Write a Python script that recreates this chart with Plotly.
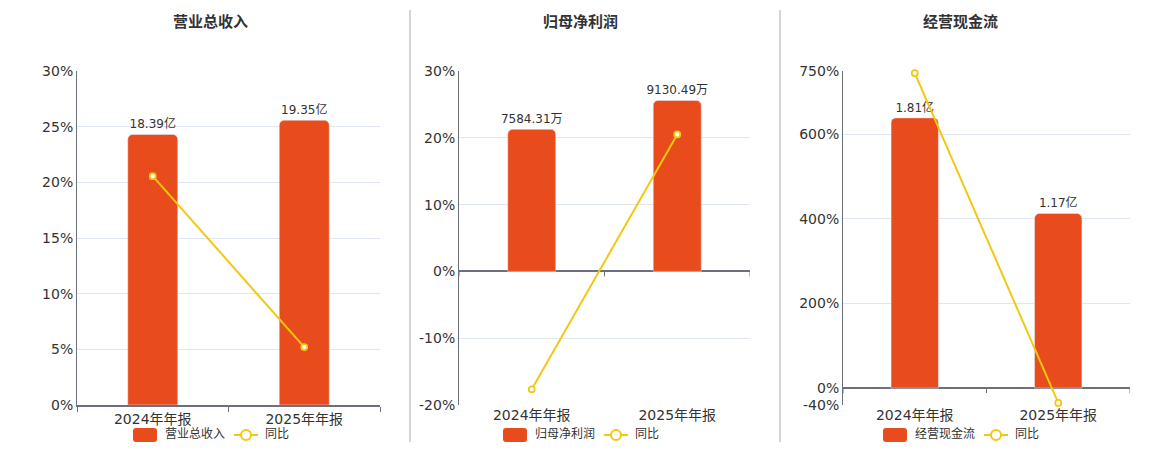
import plotly.graph_objects as go

# browser page has an 8px body margin; figure fits inside it
OFF = 8
W, H = 1160 - 2 * OFF, 450 - 2 * OFF

categories = ["2024年年报", "2025年年报"]

titles = ["营业总收入", "归母净利润", "经营现金流"]
units = ["亿", "万", "亿"]
yoy_name = "同比"

revenue = [18.39, 19.35]          # 亿
revenue_yoy = [20.55, 5.2]        # %
profit = [7584.31, 9130.49]       # 万
profit_yoy = [-17.65, 20.5]       # %
cashflow = [1.81, 1.17]           # 亿
cashflow_yoy = [745.0, -35.0]     # %

pct_ticks = [
    [0, 5, 10, 15, 20, 25, 30],
    [-20, -10, 0, 10, 20, 30],
    [-40, 0, 200, 400, 600, 750],
]

BAR = "#E84B1C"
LINE = "#F2C811"
AXIS = "#6E7079"
GRID = "#E0E6F1"
TXT = "#333333"
FONT = "DejaVu Sans, Noto Sans CJK SC, sans-serif"

bars = [revenue, profit, cashflow]
yoys = [revenue_yoy, profit_yoy, cashflow_yoy]
# hidden bar-axis top values (so bars sit at the picture's heights)
bar_top = [22.7, 10700, 2.124]


def px(x):
    return (x - OFF) / W


def py(y):
    return 1 - (y - OFF) / H


# pixel layout of each panel (screen coordinates)
plot_x = [(77, 380), (459, 750), (843, 1130)]
panel_center = [210, 580, 960]
y_top, y_bot = 71, 405
leg_y = 435       # legend symbols
leg_ty = 433.5    # legend texts

fig = go.Figure()
layout = dict(
    width=W, height=H,
    margin=dict(l=0, r=0, t=0, b=0, autoexpand=False),
    paper_bgcolor="white", plot_bgcolor="white",
    font=dict(family=FONT, color=TXT, size=12),
    bargap=0.67,
    barcornerradius=5,
    showlegend=False,
    annotations=[], shapes=[],
)


def rounded_rect(xl, xr, yt, yb, r):
    # path in paper coords from screen pixel box
    pts = [
        f"M {px(xl + r)},{py(yt)}",
        f"L {px(xr - r)},{py(yt)}",
        f"Q {px(xr)},{py(yt)} {px(xr)},{py(yt + r)}",
        f"L {px(xr)},{py(yb - r)}",
        f"Q {px(xr)},{py(yb)} {px(xr - r)},{py(yb)}",
        f"L {px(xl + r)},{py(yb)}",
        f"Q {px(xl)},{py(yb)} {px(xl)},{py(yb - r)}",
        f"L {px(xl)},{py(yt + r)}",
        f"Q {px(xl)},{py(yt)} {px(xl + r)},{py(yt)}",
        "Z",
    ]
    return " ".join(pts)


for i in range(3):
    xa = "x" if i == 0 else f"x{i+1}"
    yb = "y" if i == 0 else f"y{i+1}"          # hidden bar axis
    yp = f"y{i+4}"                              # visible percent axis
    pmin, pmax = pct_ticks[i][0], pct_ticks[i][-1]
    bmax = bar_top[i]
    bmin = bmax * pmin / pmax

    fig.add_trace(go.Bar(
        x=categories, y=bars[i], name=titles[i],
        xaxis=xa, yaxis=yb,
        marker=dict(color=BAR),
        text=[f"{v:.2f}{units[i]}" for v in bars[i]],
        textposition="outside", cliponaxis=False, constraintext="none",
        textfont=dict(size=12, color=TXT),
        hoverinfo="skip",
    ))
    fig.add_trace(go.Scatter(
        x=categories, y=yoys[i], name=yoy_name,
        xaxis=xa, yaxis=yp,
        mode="lines+markers",
        line=dict(color=LINE, width=2),
        marker=dict(size=6, color="white", line=dict(color=LINE, width=1.8)),
        cliponaxis=False,
        hoverinfo="skip",
    ))

    x0, x1 = plot_x[i]
    dom_x = [px(x0), px(x1)]
    dom_y = [py(y_bot), py(y_top)]
    xkey = "xaxis" if i == 0 else f"xaxis{i+1}"
    ybkey = "yaxis" if i == 0 else f"yaxis{i+1}"
    ypkey = f"yaxis{i+4}"

    layout[xkey] = dict(
        domain=dom_x, anchor=yb, type="category",
        showline=(i == 0), linecolor=AXIS, linewidth=1.5,
        ticks="outside" if i == 0 else "", tickson="boundaries",
        ticklen=5, tickcolor=AXIS,
        tickfont=dict(size=14, color=TXT),
        showgrid=False, range=[-0.5, 1.5], automargin=False,
    )
    layout[ybkey] = dict(
        domain=dom_y, anchor=xa, range=[bmin, bmax],
        visible=False, showgrid=False, zeroline=False, automargin=False,
    )
    layout[ypkey] = dict(
        overlaying=yb, anchor=xa, side="left",
        range=[pmin, pmax], tickmode="array", tickvals=pct_ticks[i],
        ticktext=[f"{v}%" for v in pct_ticks[i]],
        showgrid=True, gridcolor=GRID, gridwidth=1,
        zeroline=(i != 0), zerolinecolor=AXIS, zerolinewidth=1.5,
        showline=True, linecolor=AXIS, linewidth=1,
        ticks="", tickfont=dict(size=14, color=TXT), automargin=False,
    )

    # title
    c = panel_center[i]
    layout["annotations"].append(dict(
        text=f"<b>{titles[i]}</b>", xref="paper", yref="paper",
        x=px(c), y=py(22), xanchor="center", yanchor="middle",
        showarrow=False, font=dict(size=15, color=TXT),
    ))

    # legend (drawn like the reference: rounded swatch + line/circle)
    layout["shapes"].append(dict(
        type="path", xref="paper", yref="paper",
        path=rounded_rect(c - 77, c - 53, leg_y - 7, leg_y + 7, 3),
        fillcolor=BAR, line=dict(width=0),
    ))
    layout["annotations"].append(dict(
        text=titles[i], xref="paper", yref="paper",
        x=px(c - 47), y=py(leg_ty), xanchor="left", yanchor="middle",
        showarrow=False, font=dict(size=12, color=TXT),
    ))
    layout["shapes"].append(dict(
        type="line", xref="paper", yref="paper",
        x0=px(c + 24), x1=px(c + 48), y0=py(leg_y), y1=py(leg_y),
        line=dict(color=LINE, width=2),
    ))
    layout["shapes"].append(dict(
        type="circle", xref="paper", yref="paper",
        x0=px(c + 31), x1=px(c + 41), y0=py(leg_y + 5), y1=py(leg_y - 5),
        fillcolor="white", line=dict(color=LINE, width=2),
    ))
    layout["annotations"].append(dict(
        text=yoy_name, xref="paper", yref="paper",
        x=px(c + 53), y=py(leg_ty), xanchor="left", yanchor="middle",
        showarrow=False, font=dict(size=12, color=TXT),
    ))

    if i != 0:
        for b in (-0.5, 0.5, 1.5):
            layout["shapes"].append(dict(
                type="line", xref=xa, yref=yp, ysizemode="pixel", yanchor=0,
                x0=b, x1=b, y0=0, y1=-5, line=dict(color=AXIS, width=1),
            ))

for xd in (410, 780):
    layout["shapes"].append(dict(
        type="line", xref="paper", yref="paper",
        x0=px(xd), x1=px(xd), y0=py(442), y1=py(10),
        line=dict(color="#AAAAAA", width=1),
    ))

fig.update_layout(**layout)
fig.write_html("out.html")
